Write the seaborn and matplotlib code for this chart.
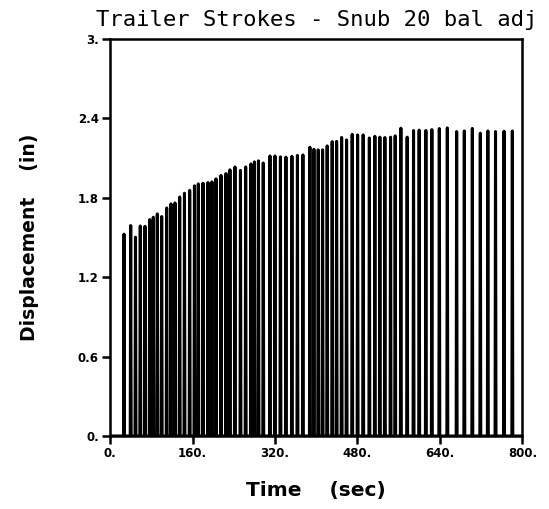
import numpy as np
import pandas as pd
import matplotlib
matplotlib.use("Agg")
import matplotlib.pyplot as plt
import seaborn as sns

# stroke times (sec) and peak displacement (in)
stroke_time = [27.1, 40.1, 49.4, 58.7, 67.8, 77.0, 83.9, 91.7, 100.2, 109.9,
               118.2, 126.0, 135.1, 144.4, 154.5, 163.8, 171.2, 180.3, 190.0, 197.7,
               205.5, 215.2, 224.9, 232.6, 242.3, 253.0, 263.1, 273.3, 280.1, 287.9,
               297.2, 310.2, 319.9, 330.5, 341.2, 352.8, 363.5, 374.1, 387.7, 395.5,
               403.8, 412.3, 421.2, 430.9, 439.5, 449.2, 458.8, 469.7, 480.2, 491.0,
               503.0, 513.7, 523.4, 533.1, 544.1, 553.1, 564.1, 576.3, 588.7, 599.6,
               612.6, 624.2, 638.7, 654.2, 672.3, 687.2, 702.7, 718.2, 732.8, 747.7,
               764.2, 780.3]
stroke_peak = [1.525, 1.590, 1.502, 1.587, 1.584, 1.635, 1.653, 1.678, 1.658, 1.723,
               1.754, 1.761, 1.806, 1.834, 1.856, 1.890, 1.905, 1.910, 1.915, 1.920,
               1.943, 1.969, 1.983, 2.011, 2.033, 2.007, 2.033, 2.056, 2.071, 2.079,
               2.063, 2.116, 2.116, 2.109, 2.107, 2.113, 2.120, 2.124, 2.182, 2.166,
               2.162, 2.162, 2.192, 2.224, 2.226, 2.256, 2.237, 2.279, 2.275, 2.275,
               2.252, 2.264, 2.258, 2.255, 2.258, 2.268, 2.326, 2.258, 2.308, 2.311,
               2.308, 2.315, 2.323, 2.328, 2.300, 2.305, 2.324, 2.288, 2.305, 2.300,
               2.303, 2.305]

x_ticks = [0, 160, 320, 480, 640, 800]
x_labels = ["0.", "160.", "320.", "480.", "640.", "800."]
y_ticks = [0, 0.6, 1.2, 1.8, 2.4, 3.0]
y_labels = ["0.", "0.6", "1.2", "1.8", "2.4", "3."]

# one continuous trace: baseline, up to each peak and back down
half = 0.9
tx, ty = [0.0], [0.0]
for t, p in zip(stroke_time, stroke_peak):
    tx += [t - half, t, t + half]
    ty += [0.0, p, 0.0]
tx.append(800.0)
ty.append(0.0)
trace = pd.DataFrame({"Time": tx, "Displacement": ty})

sns.set_theme(style="white")
plt.rcParams["font.family"] = ["DejaVu Sans"]
plt.rcParams["text.color"] = "black"
plt.rcParams["axes.labelcolor"] = "black"
plt.rcParams["xtick.color"] = "black"
plt.rcParams["ytick.color"] = "black"

fig = plt.figure(figsize=(5.49, 5.09), dpi=100)
ax = fig.add_axes([0.2004, 0.1434, 0.7513, 0.78])

sns.lineplot(data=trace, x="Time", y="Displacement", sort=False, estimator=None,
             color="black", linewidth=2.2, ax=ax)

ax.set_xlim(0, 800)
ax.set_ylim(0, 3.0)
ax.set_xticks(x_ticks)
ax.set_xticklabels(x_labels)
ax.set_yticks(y_ticks)
ax.set_yticklabels(y_labels)
ax.tick_params(axis="both", direction="out", length=6, width=1.8, colors="black",
               labelsize=8.5, pad=2, bottom=True, left=True)
for lab in ax.get_xticklabels() + ax.get_yticklabels():
    lab.set_fontweight("bold")

for s in ax.spines.values():
    s.set_color("black")
    s.set_linewidth(1.8)

ax.set_title("Trailer Strokes - Snub 20 bal adj", fontsize=16,
             family="DejaVu Sans Mono", color="black", pad=9)
ax.set_xlabel("Time    (sec)", fontsize=14.5, fontweight="bold", labelpad=15)
ax.set_ylabel("Displacement    (in)", fontsize=13.5, fontweight="bold", labelpad=28)

fig.savefig("out.png", dpi=100)
